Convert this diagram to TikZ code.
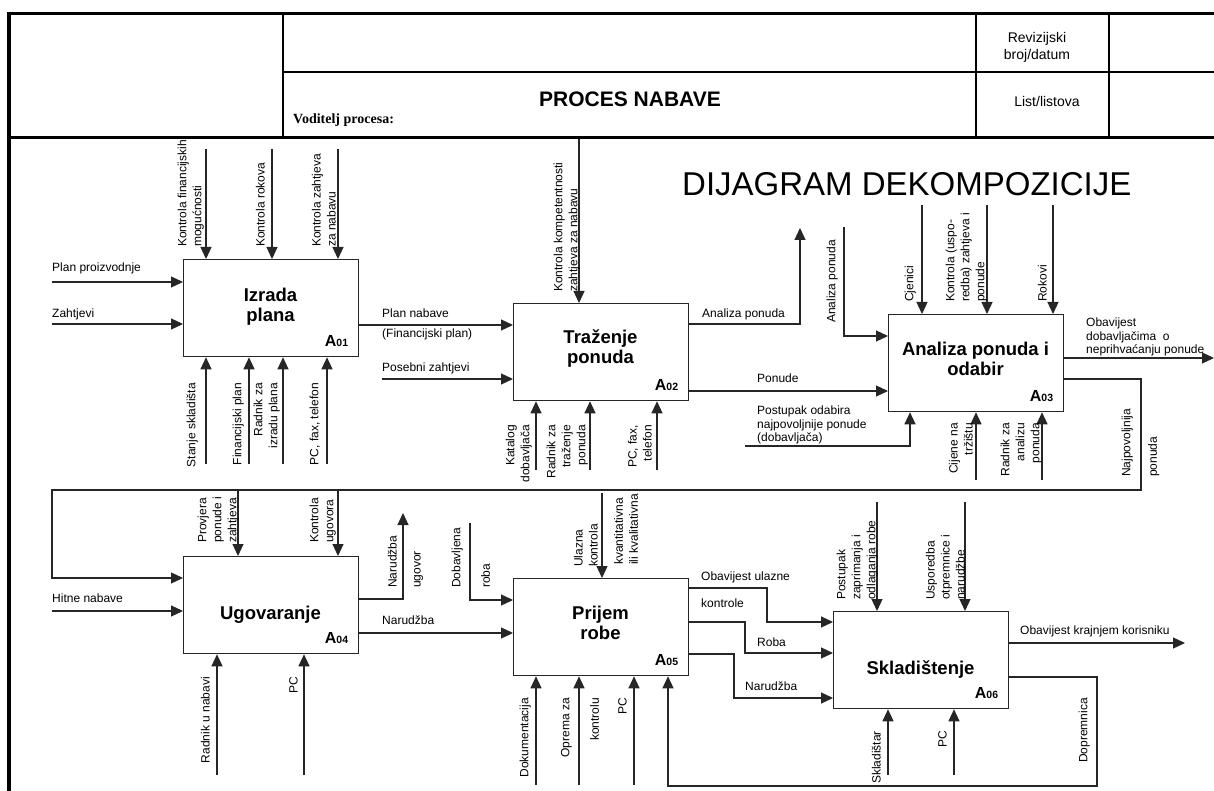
\documentclass[tikz,border=0pt]{standalone}
\usepackage{fontspec}
\setmainfont{Liberation Sans}
\newfontfamily\serifbold{Liberation Serif}
\usetikzlibrary{arrows.meta,calc}
\begin{document}
\begin{tikzpicture}[x=1pt,y=-1pt,
  ln/.style={line width=1.2pt, draw=black!85},
  arr/.style={ln, -{Triangle[length=12pt,width=11pt]}},
  box/.style={draw=black!85, line width=1.3pt, minimum width=175pt, minimum height=97pt, inner sep=0pt, anchor=north west},
  lab/.style={font=\fontsize{12}{14}\selectfont, inner sep=0pt},
  mlab/.style={font=\fontsize{12}{13.5}\selectfont, inner sep=0pt, align=left, anchor=north west},
  rl/.style={font=\fontsize{12}{15}\selectfont, inner sep=0pt, rotate=90},
  ctl/.style={rl, anchor=south west, align=left},
  ctr/.style={rl, anchor=north west, align=left},
  mech/.style={rl, anchor=south east, align=right},
  mechr/.style={rl, anchor=north east, align=right},
  ttl/.style={font=\fontsize{18.5}{20}\selectfont\bfseries, align=center, inner sep=0pt},
  num/.style={font=\fontsize{16}{18}\selectfont\bfseries, inner sep=0pt, anchor=base east},
  frame/.style={draw=black}
]
\useasboundingbox (0,0) rectangle (1214,791);
\fill[white] (0,0) rectangle (1214,791);

% ---------- boxes ----------
\node[box] (A01) at (183,259) {};
\node[box] (A02) at (513,303) {};
\node[box] (A03) at (888,314) {};
\node[box] (A04) at (183,556) {};
\node[box] (A05) at (513,578) {};
\node[box] (A06) at (833,611) {};

\node[ttl] (t1) at (270.5,307) {Izrada\\plana};
\node[ttl] (t2) at (600.5,348.5) {Traženje\\ponuda};
\node[ttl] (t3) at (975.5,359) {Analiza ponuda i\\odabir};
\node[ttl, anchor=base] (t4) at (270.5,619) {Ugovaranje};
\node[ttl] (t5) at (600.5,623) {Prijem\\robe};
\node[ttl, anchor=base] (t6) at (920.5,674) {Skladištenje};

\node[num] (a1) at ($(A01.south east)+(-11,-11)$) {A\fontsize{10.5}{12}\selectfont 01};
\node[num] (a2) at ($(A02.south east)+(-11,-11)$) {A\fontsize{10.5}{12}\selectfont 02};
\node[num] (a3) at ($(A03.south east)+(-11,-11)$) {A\fontsize{10.5}{12}\selectfont 03};
\node[num] (a4) at ($(A04.south east)+(-11,-11)$) {A\fontsize{10.5}{12}\selectfont 04};
\node[num] (a5) at ($(A05.south east)+(-11,-11)$) {A\fontsize{10.5}{12}\selectfont 05};
\node[num] (a6) at ($(A06.south east)+(-11,-11)$) {A\fontsize{10.5}{12}\selectfont 06};

% ---------- A01 ----------
\coordinate (c11) at (206,149); \coordinate (c12) at (272,149); \coordinate (c13) at (338,149);
\foreach \c in {c11,c12,c13} \draw[arr] (\c) -- (\c |- A01.north);
\coordinate (i11) at (52,282); \coordinate (i12) at (52,324);
\foreach \c in {i11,i12} \draw[arr] (\c) -- (\c -| A01.west);
\coordinate (m11) at (206,464); \coordinate (m12) at (249,464); \coordinate (m13) at (283,464); \coordinate (m14) at (327,464);
\foreach \c in {m11,m12,m13,m14} \draw[arr] (\c) -- (\c |- A01.south);

% ---------- A02 ----------
\coordinate (p12) at (450,325);
\draw[arr] (p12 -| A01.east) -- (p12 -| A02.west);
\coordinate (i21) at (382,379);
\draw[arr] (i21) -- (i21 -| A02.west);
\coordinate (c21) at (579,139);
\draw[arr] (c21) -- (c21 |- A02.north);
\coordinate (o21) at (800,324); \coordinate (o21e) at (800,228);
\draw[arr] (o21 -| A02.east) -- (o21) -- (o21e);
\coordinate (p23) at (800,391);
\draw[arr] (p23 -| A02.east) -- (p23 -| A03.west);
\coordinate (m21) at (536,470); \coordinate (m22) at (590,470); \coordinate (m23) at (657,470);
\foreach \c in {m21,m22,m23} \draw[arr] (\c) -- (\c |- A02.south);

% ---------- A03 ----------
\coordinate (i31) at (844,227); \coordinate (i31b) at (844,336);
\draw[arr] (i31) -- (i31b) -- (i31b -| A03.west);
\coordinate (i32) at (745,446); \coordinate (i32b) at (910,446);
\draw[arr] (i32) -- (i32b) -- (i32b |- A03.south);
\coordinate (c31) at (922,205); \coordinate (c32) at (987,205); \coordinate (c33) at (1053,205);
\foreach \c in {c31,c32,c33} \draw[arr] (\c) -- (\c |- A03.north);
\coordinate (m31) at (976,480); \coordinate (m32) at (1042,480);
\foreach \c in {m31,m32} \draw[arr] (\c) -- (\c |- A03.south);
\coordinate (o31) at (1214,358);
\draw[arr] (o31 -| A03.east) -- (o31);
\coordinate (n1) at (1141,379); \coordinate (n2) at (1141,490);
\coordinate (n3) at (52,490); \coordinate (n4) at (52,578);
\draw[arr] (n1 -| A03.east) -- (n1) -- (n2) -- (n3) -- (n4) -- (n4 -| A04.west);

% ---------- A04 ----------
\coordinate (c41) at (238,490); \coordinate (c42) at (338,490);
\foreach \c in {c41,c42} \draw[arr] (\c) -- (\c |- A04.north);
\coordinate (i41) at (52,611);
\draw[arr] (i41) -- (i41 -| A04.west);
\coordinate (o41) at (403,599); \coordinate (o41e) at (403,513);
\draw[arr] (o41 -| A04.east) -- (o41) -- (o41e);
\coordinate (d1) at (470,523); \coordinate (d2) at (470,600);
\draw[arr] (d1) -- (d2) -- (d2 -| A05.west);
\coordinate (p45) at (450,633);
\draw[arr] (p45 -| A04.east) -- (p45 -| A05.west);
\coordinate (m41) at (217,775); \coordinate (m42) at (304,775);
\foreach \c in {m41,m42} \draw[arr] (\c) -- (\c |- A04.south);

% ---------- A05 ----------
\coordinate (c51) at (602,493);
\draw[arr] (c51) -- (c51 |- A05.north);
\coordinate (q1) at (767,588); \coordinate (q1b) at (767,622);
\draw[arr] (q1 -| A05.east) -- (q1) -- (q1b) -- (q1b -| A06.west);
\coordinate (q2) at (745,622); \coordinate (q2b) at (745,653);
\draw[arr] (q2 -| A05.east) -- (q2) -- (q2b) -- (q2b -| A06.west);
\coordinate (q3) at (734,654); \coordinate (q3b) at (734,698);
\draw[arr] (q3 -| A05.east) -- (q3) -- (q3b) -- (q3b -| A06.west);
\coordinate (m51) at (536,785); \coordinate (m52) at (579,785); \coordinate (m53) at (634,785);
\foreach \c in {m51,m52,m53} \draw[arr] (\c) -- (\c |- A05.south);
\coordinate (f1) at (1097,677); \coordinate (f2) at (1097,786); \coordinate (f3) at (668,786);
\draw[arr] (f1 -| A06.east) -- (f1) -- (f2) -- (f3) -- (f3 |- A05.south);

% ---------- A06 ----------
\coordinate (c61) at (877,502); \coordinate (c62) at (965,502);
\foreach \c in {c61,c62} \draw[arr] (\c) -- (\c |- A06.north);
\coordinate (o61) at (1185,643);
\draw[arr] (o61 -| A06.east) -- (o61);
\coordinate (m61) at (888,775); \coordinate (m62) at (954,775);
\foreach \c in {m61,m62} \draw[arr] (\c) -- (\c |- A06.south);

% ---------- horizontal labels ----------
\node[lab,anchor=base west] (h1) at (52,272) {Plan proizvodnje};
\node[lab,anchor=base west] (h2) at (52,317) {Zahtjevi};
\node[lab,anchor=base west] (h3) at (382,317) {Plan nabave};
\node[lab,anchor=base west] (h4) at (382,337) {(Financijski plan)};
\node[lab,anchor=base west] (h5) at (382,371) {Posebni zahtjevi};
\node[lab,anchor=base west] (h6) at (702,317) {Analiza ponuda};
\node[lab,anchor=base west] (h7) at (757,382) {Ponude};
\node[mlab] (h8) at (757,406) {Postupak odabira\\najpovoljnije ponude\\(dobavljača)};
\node[mlab] (h9) at (1086,318) {Obavijest\\dobavljačima\ \ o\\neprihvaćanju ponude};
\node[lab,anchor=base west] (h10) at (52,602) {Hitne nabave};
\node[lab,anchor=base west] (h11) at (382,624) {Narudžba};
\node[lab,anchor=base west] (h12) at (701,580) {Obavijest ulazne};
\node[lab,anchor=base west] (h13) at (701,607) {kontrole};
\node[lab,anchor=base west] (h14) at (757,646) {Roba};
\node[lab,anchor=base west] (h15) at (745,690) {Narudžba};
\node[lab,anchor=base west] (h16) at (1020,634) {Obavijest krajnjem korisniku};

% ---------- rotated control labels ----------
\node[ctl] (lc11) at (204,247) {Kontrola financijskih\\mogućnosti};
\node[ctl] (lc12) at (265,247) {Kontrola rokova};
\node[ctl] (lc13) at (336,247) {Kontrola zahtjeva\\za nabavu};
\node[ctl] (lc21) at (580,292) {Kontrola kompetentnosti\\zahtjeva za nabavu};
\node[ctl] (lc31) at (916,302) {Cjenici};
\node[ctl] (lc32) at (987,302) {Kontrola (uspo-\\redba) zahtjeva i\\ponude};
\node[ctl] (lc33) at (1047,302) {Rokovi};
\node[ctl] (lc41) at (239,543) {Provjera\\ponude i\\zahtjeva};
\node[ctl] (lc42) at (336,543) {Kontrola\\ugovora};
\node[ctl] (lc51) at (598,567) {Ulazna\\kontrola};
\node[ctr] (lc52) at (614,565) {kvantitativna\\ili kvalitativna};
\node[ctl] (lc61) at (878,600) {Postupak\\zaprimanja i\\odlaganja robe};
\node[ctl] (lc62) at (965,600) {Usporedba\\otpremnice i\\narudžbe};
\node[ctl] (lo21) at (838,323) {Analiza ponuda};
\node[ctl] (lo31) at (1133,477) {Najpovoljnija};
\node[ctr] (lo32) at (1148,477) {ponuda};
\node[ctl] (lo41) at (397,588) {Narudžba};
\node[ctr] (lo42) at (414,588) {ugovor};
\node[ctl] (lo43) at (463,588) {Dobavljena};
\node[ctr] (lo44) at (481,588) {roba};
\node[ctl] (lo61) at (1090,763) {Dopremnica};

% ---------- rotated mechanism labels ----------
\node[mech] (lm11) at (198,383) {Stanje skladišta};
\node[mech] (lm12) at (244,383) {Financijski plan};
\node[mech] (lm13) at (280,383) {Radnik za\\izradu plana};
\node[mech] (lm14) at (320,383) {PC, fax, telefon};
\node[mech] (lm21) at (532,425) {Katalog\\dobavljača};
\node[mech] (lm22) at (588,425) {Radnik za\\traženje\\ponuda};
\node[mech] (lm23) at (652,425) {PC, fax,\\telefon};
\node[mech] (lm31) at (973,423) {Cijene na\\tržištu};
\node[mech] (lm32) at (1042,423) {Radnik za\\analizu\\ponuda};
\node[mech] (lm41) at (210,677) {Radnik u nabavi};
\node[mech] (lm42) at (298,677) {PC};
\node[mech] (lm51) at (531,698) {Dokumentacija};
\node[mech] (lm52) at (572,698) {Oprema za};
\node[mechr] (lm53) at (590,698) {kontrolu};
\node[mech] (lm54) at (627,698) {PC};
\node[mech] (lm61) at (881,731) {Skladištar};
\node[mech] (lm62) at (947,731) {PC};

% ---------- big title ----------
\node[font=\fontsize{33}{36}\selectfont, anchor=base west, inner sep=0pt] (dd) at (682,196) {DIJAGRAM DEKOMPOZICIJE};

% ---------- frame and header ----------
\draw[frame, line width=3pt] (7,14) -- (1214,14);
\draw[frame, line width=4pt] (9,12.5) -- (9,791);
\draw[frame, line width=3pt] (7,138) -- (1214,138);
\draw[frame, line width=2pt] (283,14) -- (283,138);
\draw[frame, line width=2pt] (283,72) -- (1214,72);
\draw[frame, line width=2pt] (976,14) -- (976,138);
\draw[frame, line width=2pt] (1109,14) -- (1109,138);

\node[font=\fontsize{21}{24}\selectfont\bfseries, anchor=base, inner sep=0pt] (hpn) at (630,107) {PROCES NABAVE};
\node[font=\serifbold\bfseries\fontsize{14}{16}\selectfont, anchor=base west, inner sep=0pt] (hvp) at (293,124) {Voditelj procesa:};
\node[font=\fontsize{14}{17.5}\selectfont, align=center, anchor=north, inner sep=0pt] (hrev) at (1037,32) {Revizijski\\broj/datum};
\node[font=\fontsize{14}{17}\selectfont, anchor=base, inner sep=0pt] (hlist) at (1047,107) {List/listova};
\end{tikzpicture}
\end{document}
